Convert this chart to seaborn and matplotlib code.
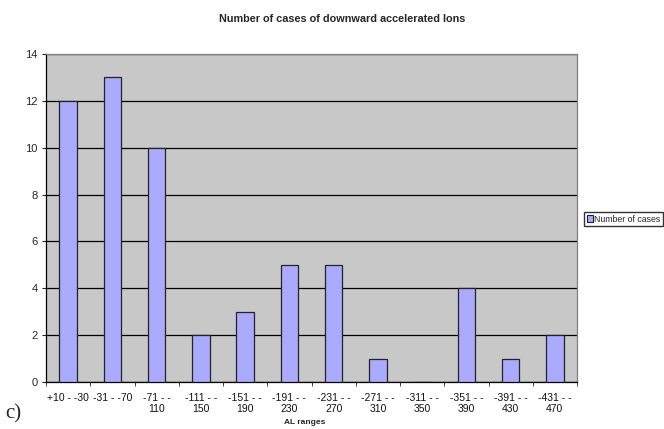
import matplotlib
matplotlib.use("Agg")
import matplotlib.pyplot as plt
import numpy as np
import pandas as pd
import seaborn as sns

# AL ranges and number of cases
ranges = ["+10 - -30", "-31 - -70", "-71 - -\n110", "-111 - -\n150", "-151 - -\n190",
          "-191 - -\n230", "-231 - -\n270", "-271 - -\n310", "-311 - -\n350",
          "-351 - -\n390", "-391 - -\n430", "-431 - -\n470"]
cases = [12, 13, 10, 2, 3, 5, 5, 1, 0, 4, 1, 2]
series_name = "Number of cases"

df = pd.DataFrame({"range": ranges, "cases": cases, "series": series_name})

sns.set_style("white")
plt.rcParams["font.family"] = ["Liberation Sans", "DejaVu Sans"]

fig = plt.figure(figsize=(6.64, 4.29), dpi=100)
ax = fig.add_axes([46 / 664, 1 - 382 / 429, (577 - 46) / 664, (382 - 54) / 429])
ax.set_facecolor("#C8C8C8")

sns.barplot(data=df, x="range", y="cases", hue="series", order=ranges,
            palette=["#AAAAFF"], width=0.4, edgecolor="#222222", linewidth=0.9,
            saturation=1, ax=ax, zorder=3)

ax.set_ylim(0, 14)
ax.set_xlim(-0.5, len(ranges) - 0.5)
ax.set_yticks(np.arange(0, 15, 2))
ax.yaxis.grid(True, color="black", linewidth=0.9, zorder=1)
ax.set_axisbelow(True)
ax.tick_params(axis="y", labelsize=8, length=3, direction="out", left=True, pad=3)
ax.tick_params(axis="x", labelsize=7.5, length=0, pad=8, labelcolor="#111111")
for lbl in ax.get_xticklabels():
    lbl.set_linespacing(1.15)
ax.set_xticks(np.arange(-0.5, len(ranges)), minor=True)
ax.tick_params(axis="x", which="minor", length=3, direction="out", bottom=True)
ax.set_xlabel("")
ax.set_ylabel("")

for side in ["top", "right"]:
    ax.spines[side].set_color("#808080")
    ax.spines[side].set_linewidth(0.9)
for side in ["left", "bottom"]:
    ax.spines[side].set_color("black")
    ax.spines[side].set_linewidth(0.9)

ax.legend_.remove()
handle = plt.Rectangle((0, 0), 1, 1, facecolor="#AAAAFF", edgecolor="#222222", linewidth=0.8)
fig.legend([handle], [series_name], loc="center left", bbox_to_anchor=(584 / 664, 1 - 219 / 429),
           fontsize=6.3, frameon=True, fancybox=False, edgecolor="black", handlelength=0.7,
           handleheight=0.7, handletextpad=0.2, borderpad=0.3, borderaxespad=0)

fig.text(342 / 664, 1 - 19 / 429, "Number of cases of downward accelerated Ions",
         ha="center", va="center", fontsize=7.8, fontweight="bold")
fig.text(305 / 664, 1 - 422 / 429, "AL ranges", ha="center", va="center",
         fontsize=6, fontweight="bold")
fig.text(5 / 664, 1 - 414 / 429, "c)", ha="left", va="center", fontsize=15,
         family=["Liberation Serif"])

fig.savefig("out.png", dpi=100)
